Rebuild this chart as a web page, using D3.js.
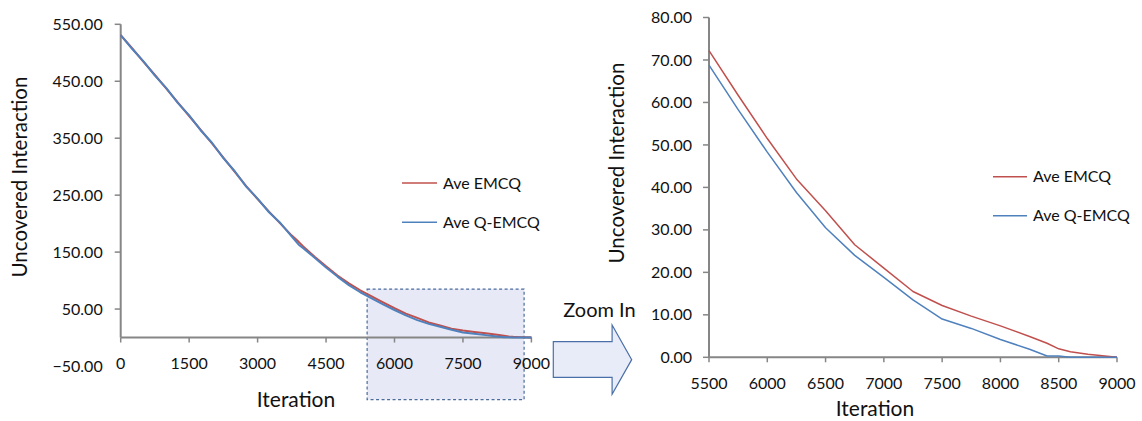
<!DOCTYPE html>
<html>
<head>
<meta charset="utf-8">
<script src="https://cdn.jsdelivr.net/npm/d3@7/dist/d3.min.js"></script>
<style>
  html, body { margin: 0; padding: 0; background: #fff; }
  svg { display: block; font-family: Lato, "Open Sans", sans-serif; }
</style>
</head>
<body>
<svg id="chart" width="1142" height="421"></svg>
<script>
// ---------------- data ----------------
const iterations = [0, 250, 500, 750, 1000, 1250, 1500, 1750, 2000, 2250, 2500, 2750, 3000, 3250, 3500, 3750, 3900, 4000, 4250, 4500, 4750, 5000, 5250, 5500, 5750, 6000, 6250, 6500, 6750, 7000, 7250, 7500, 7750, 8000, 8250, 8400, 8500, 8600, 8750, 9000];
const aveEMCQ = [531, 508, 484, 461, 437, 413, 389, 365, 341, 316, 291, 266, 243, 221, 200, 179, 168, 160, 142, 125, 109, 95, 83, 72.2, 61.7, 51.5, 42, 34.5, 26.5, 21, 15.5, 12.2, 9.7, 7.4, 4.9, 3.3, 2.0, 1.3, 0.7, 0];
const aveQEMCQ = [531, 507, 485, 460, 438, 412, 390, 364, 342, 315, 292, 265, 244, 220, 201, 177, 163, 157, 140, 123, 107, 92, 79.5, 68.8, 58.3, 48.3, 38.8, 30.5, 24.0, 18.8, 13.5, 9.0, 6.8, 4.2, 1.9, 0.3, 0.3, 0, 0, 0];
const seriesNames = ["Ave EMCQ", "Ave Q-EMCQ"];
const leftXTicks = [0, 1500, 3000, 4500, 6000, 7500, 9000];
const leftYTicks = [550, 450, 350, 250, 150, 50, -50];
const rightXTicks = [5500, 6000, 6500, 7000, 7500, 8000, 8500, 9000];
const rightYTicks = [0, 10, 20, 30, 40, 50, 60, 70, 80];
const zoomRange = [5400, 8840];      // iteration span of the highlighted zoom box
const zoomValueRange = [-109, 85];   // value span of the highlighted zoom box
const xTitle = "Iteration";
const yTitle = "Uncovered Interaction";
const arrowLabel = "Zoom In";

// ---------------- styles ----------------
const colors = ["#c0504d", "#4f81bd"];
const axisColor = "#868686";
const fmt = d3.format(".2f");

const svg = d3.select("#chart");
const rows = iterations.map((it, i) => ({ it, a: aveEMCQ[i], b: aveQEMCQ[i] }));

function drawPanel(opt) {
  const g = svg.append("g");
  const x = d3.scaleLinear().domain(opt.xDomain).range(opt.xRange);
  const y = d3.scaleLinear().domain(opt.yDomain).range(opt.yRange);
  const x0 = y(0);

  if (opt.box) {
    g.append("rect")
      .attr("x", x(zoomRange[0])).attr("y", y(zoomValueRange[1]))
      .attr("width", x(zoomRange[1]) - x(zoomRange[0]))
      .attr("height", y(zoomValueRange[0]) - y(zoomValueRange[1]))
      .attr("fill", "#e8e9f7").attr("stroke", "#4a6b9c")
      .attr("stroke-width", 1.2).attr("stroke-dasharray", "3,2.5");
  }

  // y axis line (from top to value 0)
  g.append("line")
    .attr("x1", opt.xRange[0]).attr("x2", opt.xRange[0])
    .attr("y1", y(opt.yDomain[1])).attr("y2", x0)
    .attr("stroke", axisColor).attr("stroke-width", 2);
  // y ticks
  g.selectAll(".yt").data(opt.yTicks.filter(d => d > 0 || (opt.zeroTick && d === 0))).join("line")
    .attr("x1", opt.xRange[0] - 6).attr("x2", opt.xRange[0])
    .attr("y1", d => y(d)).attr("y2", d => y(d))
    .attr("stroke", axisColor).attr("stroke-width", 1.5);
  g.selectAll(".yl").data(opt.yTicks).join("text")
    .attr("x", opt.xRange[0] - opt.yLabelGap).attr("y", d => y(d))
    .attr("dy", "0.35em").attr("text-anchor", "end")
    .attr("font-size", 16).attr("fill", "#111")
    .text(d => fmt(d));

  // x axis line at 0
  g.append("line")
    .attr("x1", opt.xRange[0]).attr("x2", opt.xRange[1])
    .attr("y1", x0).attr("y2", x0)
    .attr("stroke", axisColor).attr("stroke-width", 2);
  g.selectAll(".xt").data(opt.xTicks).join("line")
    .attr("x1", d => x(d)).attr("x2", d => x(d))
    .attr("y1", x0).attr("y2", x0 + 5)
    .attr("stroke", axisColor).attr("stroke-width", 1.5);
  g.selectAll(".xl").data(opt.xTicks).join("text")
    .attr("x", d => x(d)).attr("y", x0 + 26)
    .attr("dy", "0.35em").attr("text-anchor", "middle")
    .attr("font-size", 16).attr("fill", "#111")
    .text(d => d);

  // series lines
  const data = rows.filter(r => r.it >= opt.xDomain[0]);
  ["a", "b"].forEach((k, i) => {
    g.append("path")
      .datum(data)
      .attr("fill", "none").attr("stroke", colors[i])
      .attr("stroke-width", opt.lineWidth)
      .attr("stroke-linejoin", "round")
      .attr("d", d3.line().x(d => x(d.it)).y(d => y(d[k])));
  });

  // titles
  g.append("text")
    .attr("x", opt.xTitlePos[0]).attr("y", opt.xTitlePos[1])
    .attr("dy", "0.35em").attr("text-anchor", "middle")
    .attr("font-size", 21).attr("fill", "#111").text(xTitle);
  g.append("text")
    .attr("transform", `translate(${opt.yTitlePos[0]},${opt.yTitlePos[1]}) rotate(-90)`)
    .attr("dy", "0.35em").attr("text-anchor", "middle")
    .attr("font-size", 20.5).attr("fill", "#111").text(yTitle);

  // legend
  seriesNames.forEach((name, i) => {
    const ly = opt.legendY[i];
    g.append("line")
      .attr("x1", opt.legendX).attr("x2", opt.legendX + opt.legendLen)
      .attr("y1", ly).attr("y2", ly)
      .attr("stroke", colors[i]).attr("stroke-width", 1.5);
    g.append("text")
      .attr("x", opt.legendX + opt.legendLen + 6).attr("y", ly)
      .attr("dy", "0.35em").attr("font-size", 16).attr("fill", "#111")
      .text(name);
  });
}

drawPanel({
  xDomain: [0, 9000], xRange: [120.7, 531.4],
  yDomain: [-50, 550], yRange: [366, 24.3],
  xTicks: leftXTicks, yTicks: leftYTicks, yLabelGap: 18,
  box: true, lineWidth: 2,
  xTitlePos: [296, 400], yTitlePos: [20, 177],
  legendX: 402, legendLen: 35, legendY: [183, 222.3]
});

drawPanel({
  xDomain: [5500, 9000], xRange: [709, 1117],
  yDomain: [0, 80], yRange: [357.3, 17.5],
  xTicks: rightXTicks, yTicks: rightYTicks, yLabelGap: 17, zeroTick: true,
  box: false, lineWidth: 1.5,
  xTitlePos: [875, 409], yTitlePos: [617, 163],
  legendX: 993, legendLen: 34, legendY: [176.7, 215.7]
});

// zoom-in block arrow
const ax = d3.scaleLinear().domain([0, 1]).range([553.3, 631.7]);
const ay = d3.scaleLinear().domain([0, 1]).range([325, 394.3]);
const arrowPts = [[0, 0.24], [0.75, 0.24], [0.75, 0], [1, 0.5], [0.75, 1], [0.75, 0.755], [0, 0.755]];
svg.append("path")
  .attr("d", d3.line().x(p => ax(p[0])).y(p => ay(p[1]))(arrowPts) + "Z")
  .attr("fill", "#e8ecf8").attr("stroke", "#4a6fa8").attr("stroke-width", 1.2);
svg.append("text")
  .attr("x", 599.5).attr("y", 310).attr("dy", "0.35em")
  .attr("text-anchor", "middle").attr("font-size", 20).attr("fill", "#111")
  .text(arrowLabel);
</script>
</body>
</html>
